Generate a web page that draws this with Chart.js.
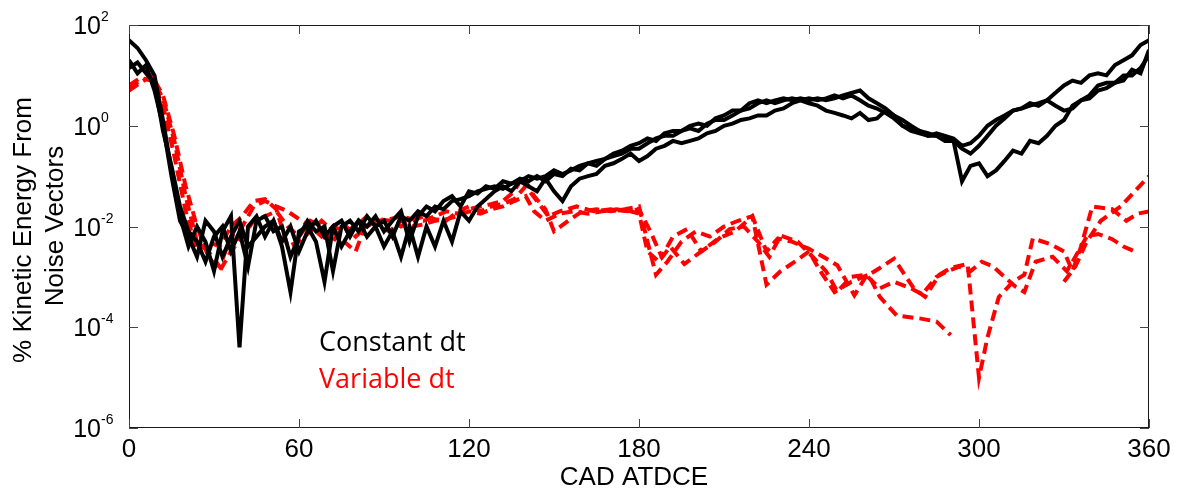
<!DOCTYPE html>
<html>
<head>
<meta charset="utf-8">
<script src="https://cdn.jsdelivr.net/npm/chart.js@4.4.0/dist/chart.umd.min.js"></script>
<style>
  html, body { margin: 0; padding: 0; background: #fff; }
</style>
</head>
<body>
<canvas id="grafica" width="1181" height="493"></canvas>
<script>
// angulos (CAD ATDCE) de las corridas con dt constante
const angulos = [0,3,6,9,12,15,18,21,24,27,30,33,36,39,42,45,48,51,54,57,60,63,66,69,72,75,78,81,84,87,90,93,96,99,102,105,108,111,114,117,120,123,126,129,132,135,138,141,144,147,150,153,156,159,162,165,168,171,174,177,180,183,186,189,192,195,198,201,204,207,210,213,216,219,222,225,228,231,234,237,240,243,246,249,252,255,258,261,264,267,270,273,276,279,282,285,288,291,294,297,300,303,306,309,312,315,318,321,324,327,330,333,336,339,342,345,348,351,354,357,360];

// % energia cinetica, dt constante (3 corridas)
const constante1 = [50,35,20,10,1.3,0.13,0.016,0.004,0.01,0.005,
  0.0013,0.008,0.016,4e-5,0.01,0.016,0.0063,0.013,0.004,5e-4,
  0.008,0.01,0.005,8e-4,0.01,0.013,0.0063,0.013,0.01,0.016,
  0.008,0.013,0.02,0.005,0.016,0.025,0.02,0.032,0.04,0.025,
  0.05,0.045,0.063,0.056,0.079,0.071,0.089,0.079,0.1,0.079,
  0.11,0.1,0.14,0.13,0.18,0.2,0.22,0.28,0.32,0.4,
  0.45,0.56,0.5,0.71,0.79,0.79,1.0,1.1,1.0,1.4,
  1.6,2.0,2.0,2.8,3.2,2.8,3.2,3.5,3.2,3.5,
  3.2,3.5,3.2,3.5,4.0,4.5,5.0,3.5,2.8,2.2,
  1.6,1.3,1.0,0.79,0.71,0.63,0.56,0.5,0.35,0.28,
  0.4,0.63,1.0,1.4,2.0,2.2,2.5,2.8,3.2,4.5,
  6.3,7.9,7.1,10,11,10,16,20,25,40,50];
const constante2 = [20,11,16,5.0,1.0,0.1,0.013,0.0063,0.0025,0.013,
  0.008,0.0025,0.0063,0.013,0.004,0.0063,0.01,0.013,0.005,0.01,
  0.0032,0.008,0.013,0.0063,0.01,0.004,0.008,0.013,0.0063,0.01,
  0.004,0.008,0.0025,0.01,0.0025,0.01,0.004,0.013,0.005,0.02,
  0.013,0.025,0.035,0.05,0.063,0.05,0.079,0.063,0.05,0.089,
  0.05,0.032,0.063,0.089,0.1,0.11,0.16,0.18,0.22,0.28,
  0.2,0.25,0.35,0.4,0.5,0.45,0.5,0.56,0.71,0.79,
  1.0,1.1,1.3,1.4,1.6,1.6,2.0,2.2,2.8,3.2,
  2.8,2.5,2.0,1.8,1.6,1.4,1.8,1.3,1.4,2.0,
  1.6,1.0,0.79,0.71,0.63,0.63,0.5,0.5,0.079,0.16,
  0.18,0.1,0.13,0.2,0.32,0.28,0.5,0.45,0.63,1.0,
  1.3,2.5,3.2,3.5,5.0,5.6,7.1,10,10,14,25];
const constante3 = [14,18,11,7.1,0.79,0.16,0.025,0.008,0.005,0.002,
  0.0063,0.01,0.0032,0.008,0.0016,0.013,0.016,0.008,0.01,0.0025,
  0.0063,0.013,0.008,0.01,0.0013,0.01,0.013,0.008,0.016,0.01,
  0.013,0.0063,0.016,0.013,0.02,0.016,0.025,0.022,0.032,0.035,
  0.04,0.05,0.056,0.063,0.056,0.071,0.079,0.1,0.089,0.1,
  0.13,0.11,0.13,0.16,0.18,0.16,0.22,0.25,0.28,0.35,
  0.35,0.45,0.56,0.63,0.63,0.79,0.89,0.79,1.1,1.3,
  1.3,1.6,2.0,2.2,2.8,3.2,2.8,3.2,3.5,3.2,
  3.5,3.2,3.5,4.0,3.5,4.0,3.2,2.5,2.2,1.8,
  1.4,1.0,0.89,0.79,0.63,0.71,0.63,0.56,0.4,0.45,
  0.63,1.0,1.3,1.6,2.0,2.2,2.8,2.5,3.2,2.5,
  2.0,2.2,3.2,4.0,6.3,7.1,7.1,7.9,13,11,32];

// dt variable (3 corridas, cada una con sus angulos)
const angulosVar1 = [0,4,8,12,16,20,24,28,32,36,40,44,48,52,56,60,64,68,72,76,80,84,88,92,96,100,104,108,112,116,120,124,128,132,136,139,143,147,150,155,160,165,170,175,180,183,186,190,195,200,205,210,215,220,225,230,235,240,244,249,255,261,265,271,279,285,290,310,330,334,338,343,350,355,360];
const variable1 = [5.6,7.9,8.9,3.5,0.5,0.04,0.005,0.0032,0.0016,0.0063,0.01,0.025,0.032,0.025,0.02,0.014,0.01,0.0063,0.01,0.008,0.01,0.016,0.013,0.014,0.016,0.014,0.013,0.016,0.02,0.018,0.022,0.025,0.028,0.032,0.05,0.1,0.04,0.022,0.008,0.013,0.02,0.022,0.02,0.022,0.025,0.005,0.0011,0.002,0.005,0.008,0.0063,0.01,0.013,0.016,0.0007,0.0013,0.002,0.0032,0.0013,0.0005,0.0008,0.0011,0.0004,0.00017,0.00015,0.00013,0.00007,null,0.0008,0.0016,0.005,0.013,0.025,0.05,0.1];

const angulosVar2 = [0,4,8,12,16,20,24,28,32,36,40,44,48,52,56,60,64,68,72,76,80,84,88,92,96,100,104,108,112,116,120,124,128,132,136,140,143,147,152,157,162,167,172,177,180,183,187,191,196,202,208,214,220,225,229,234,240,245,250,256,260,265,270,277,281,286,290,296,300,303,307,312,316,319,325,330,333,336,340,347,352,356,360];
const variable2 = [6.3,8.9,7.9,2.5,0.25,0.02,0.0032,0.005,0.004,0.01,0.016,0.032,0.035,0.022,0.004,0.005,0.008,0.013,0.008,0.005,0.0032,0.013,0.01,0.008,0.013,0.01,0.011,0.013,0.014,0.016,0.02,0.018,0.022,0.025,0.032,0.04,0.02,0.013,0.018,0.02,0.018,0.02,0.022,0.02,0.018,0.0032,0.002,0.004,0.0018,0.0032,0.0058,0.008,0.016,0.0032,0.0058,0.005,0.0036,0.0025,0.0017,0.00043,0.001,0.0015,0.0023,0.00059,0.0004,0.0011,0.0015,0.0018,0.00001,0.000063,0.0004,0.0008,0.0011,0.0058,0.0045,0.0032,0.0013,0.004,0.025,0.022,0.013,0.018,0.02];

const angulosVar3 = [0,4,8,12,16,20,24,28,32,36,40,44,48,52,56,60,64,68,72,76,80,84,88,92,96,100,104,108,112,116,120,124,128,132,136,140,144,148,152,158,164,170,176,180,184,188,192,197,202,207,212,217,222,226,230,236,241,246,250,255,260,265,270,276,280,285,289,293,297,301,305,309,313,316,320,326,331,334,338,342,347,351,355];
const variable3 = [5.0,7.1,10,4.0,0.63,0.063,0.01,0.0025,0.0013,0.0032,0.0063,0.013,0.016,0.02,0.01,0.0063,0.013,0.01,0.005,0.011,0.0063,0.01,0.014,0.013,0.01,0.013,0.016,0.014,0.013,0.02,0.025,0.02,0.025,0.028,0.035,0.063,0.032,0.016,0.02,0.025,0.02,0.022,0.02,0.022,0.008,0.0025,0.0063,0.0089,0.0032,0.005,0.0089,0.01,0.005,0.0025,0.0066,0.005,0.0026,0.0013,0.00051,0.001,0.0011,0.00059,0.0008,0.00059,0.00045,0.001,0.0013,0.0016,0.0013,0.002,0.0016,0.001,0.00063,0.0005,0.002,0.0025,0.0013,0.0025,0.0063,0.0071,0.0056,0.004,0.0032];

// ejes
const ticksX = [0, 60, 120, 180, 240, 300, 360];
const ticksY = [1e2, 1e0, 1e-2, 1e-4, 1e-6];
const exponentesY = ["2", "0", "-2", "-4", "-6"];

const colorConstante = "#000000";
const colorVariable = "#ff0000";

const juntaPuntos = (xs, ys) => xs.map((x, i) => ({ x: x, y: ys[i] }));

const serieConstante = (datos) => ({
  data: juntaPuntos(angulos, datos),
  borderColor: colorConstante,
  borderWidth: 4,
  pointRadius: 0,
  tension: 0,
});

const serieVariable = (xs, datos) => ({
  data: juntaPuntos(xs, datos),
  borderColor: colorVariable,
  borderWidth: 4,
  borderDash: [11, 6],
  pointRadius: 0,
  tension: 0,
});

// marco, ticks y textos a mano (exponentes en superindice)
const marcoEjes = {
  id: "marcoEjes",
  afterDraw(chart) {
    const { ctx, chartArea: a } = chart;
    const sx = chart.scales.x;
    const sy = chart.scales.y;
    ctx.save();
    ctx.strokeStyle = "#1a1a1a";
    ctx.lineWidth = 1;
    ctx.strokeRect(a.left + 0.5, a.top + 0.5, a.right - a.left - 1, a.bottom - a.top - 1);

    ctx.strokeStyle = "#444";
    ticksX.forEach((v) => {
      const px = Math.round(sx.getPixelForValue(v)) + 0.5;
      ctx.beginPath();
      ctx.moveTo(px, a.bottom);
      ctx.lineTo(px, a.bottom - 9);
      ctx.moveTo(px, a.top);
      ctx.lineTo(px, a.top + 9);
      ctx.stroke();
    });
    ticksY.forEach((v) => {
      const py = Math.round(sy.getPixelForValue(v)) + 0.5;
      ctx.beginPath();
      ctx.moveTo(a.left, py);
      ctx.lineTo(a.left + 9, py);
      ctx.moveTo(a.right, py);
      ctx.lineTo(a.right - 9, py);
      ctx.stroke();
    });

    ctx.fillStyle = "#000";
    ctx.font = '26px "Liberation Sans", Arial, sans-serif';
    ctx.textAlign = "center";
    ctx.textBaseline = "alphabetic";
    ticksX.forEach((v) => {
      ctx.fillText(String(v), sx.getPixelForValue(v), 457);
    });

    ticksY.forEach((v, i) => {
      const py = sy.getPixelForValue(v);
      ctx.font = '25px "Liberation Sans", Arial, sans-serif';
      ctx.textAlign = "right";
      ctx.fillText("10", 101, py + 9);
      ctx.font = '14px "Liberation Sans", Arial, sans-serif';
      ctx.textAlign = "left";
      ctx.fillText(exponentesY[i], 101, py - 4);
    });

    ctx.font = '26px "Liberation Sans", Arial, sans-serif';
    ctx.textAlign = "center";
    ctx.fillText("CAD ATDCE", 634, 485);

    ctx.save();
    ctx.translate(31, 230);
    ctx.rotate(-Math.PI / 2);
    ctx.fillText("% Kinetic Energy From", 0, 0);
    ctx.restore();
    ctx.save();
    ctx.translate(63, 226);
    ctx.rotate(-Math.PI / 2);
    ctx.fillText("Noise Vectors", 0, 0);
    ctx.restore();

    ctx.font = '27px "Open Sans", "Noto Sans", sans-serif';
    ctx.textAlign = "left";
    ctx.fillStyle = colorConstante;
    ctx.fillText("Constant dt", 319, 351);
    ctx.fillStyle = colorVariable;
    ctx.fillText("Variable dt", 319, 388);
    ctx.restore();
  },
};

const ctx = document.getElementById("grafica");
const grafica = new Chart(ctx, {
  type: "line",
  data: {
    datasets: [
      serieConstante(constante1),
      serieConstante(constante2),
      serieConstante(constante3),
      serieVariable(angulosVar1, variable1),
      serieVariable(angulosVar2, variable2),
      serieVariable(angulosVar3, variable3),
    ],
  },
  options: {
    responsive: false,
    animation: false,
    layout: { padding: { left: 129, right: 32, top: 25, bottom: 65 } },
    plugins: { legend: { display: false }, tooltip: { enabled: false } },
    scales: {
      x: { type: "linear", min: 0, max: 360, display: false },
      y: { type: "logarithmic", min: 1e-6, max: 1e2, display: false },
    },
  },
  plugins: [marcoEjes],
});
</script>
</body>
</html>
